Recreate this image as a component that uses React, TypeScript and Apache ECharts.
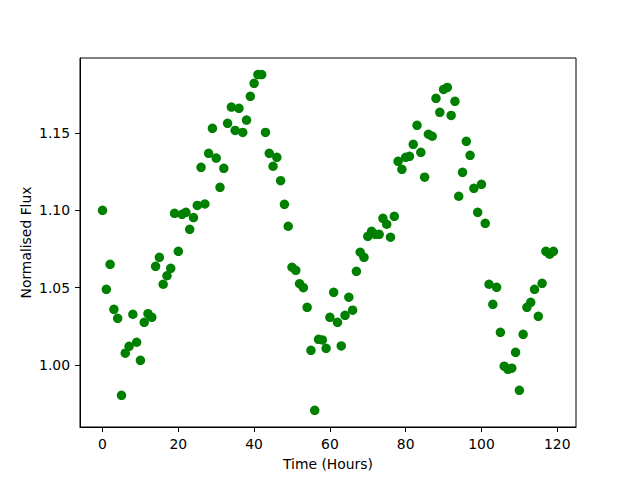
import React, { useEffect, useRef } from "react";
import * as echarts from "echarts";

const hours: number[] = Array.from({ length: 120 }, (_, i) => i);

const flux: number[] = [
  1.1000, 1.0489, 1.0651, 1.0360, 1.0302, 0.9804, 1.0076, 1.0121, 1.0328, 1.0147,
  1.0030, 1.0276, 1.0332, 1.0308, 1.0638, 1.0696, 1.0522, 1.0577, 1.0625, 1.0981,
  1.0735, 1.0974, 1.0987, 1.0877, 1.0953, 1.1032, 1.1278, 1.1041, 1.1369, 1.1530,
  1.1338, 1.1149, 1.1272, 1.1563, 1.1668, 1.1517, 1.1660, 1.1504, 1.1584, 1.1737,
  1.1821, 1.1878, 1.1878, 1.1504, 1.1369, 1.1285, 1.1343, 1.1192, 1.1039, 1.0897,
  1.0632, 1.0612, 1.0526, 1.0500, 1.0373, 1.0095, 0.9707, 1.0166, 1.0162, 1.0108,
  1.0308, 1.0470, 1.0276, 1.0123, 1.0321, 1.0438, 1.0354, 1.0606, 1.0729, 1.0696,
  1.0832, 1.0864, 1.0845, 1.0845, 1.0948, 1.0910, 1.0826, 1.0961, 1.1317, 1.1265,
  1.1343, 1.1349, 1.1427, 1.1550, 1.1375, 1.1214, 1.1492, 1.1479, 1.1724, 1.1634,
  1.1782, 1.1795, 1.1614, 1.1705, 1.1091, 1.1246, 1.1446, 1.1356, 1.1142, 1.0987,
  1.1168, 1.0916, 1.0522, 1.0392, 1.0502, 1.0211, 0.9992, 0.9972, 0.9979, 1.0082,
  0.9836, 1.0198, 1.0373, 1.0405, 1.0489, 1.0315, 1.0528, 1.0735, 1.0716, 1.0735,
];

const xTicks: number[] = [0, 20, 40, 60, 80, 100, 120];
const yTicks: number[] = [1.0, 1.05, 1.1, 1.15];

export default function App() {
  const ref = useRef<HTMLDivElement>(null);
  useEffect(() => {
    if (!ref.current) return;
    const chart = echarts.init(ref.current, null, { renderer: "svg" });
    const font = "DejaVu Sans";
    const xmin = -5.95, xmax = 124.95;
    const ymin = 0.9599, ymax = 1.1985;
    chart.setOption({
      animation: false,
      backgroundColor: "#ffffff",
      grid: {
        left: 80, right: 64, top: 58, bottom: 53,
        show: true, borderColor: "#000", borderWidth: 1, backgroundColor: "transparent",
      },
      xAxis: {
        type: "value",
        min: xmin, max: xmax,
        name: "Time (Hours)",
        nameLocation: "middle",
        nameGap: 30,
        nameMoveOverlap: false,
        nameTextStyle: { fontFamily: font, fontSize: 13.9, color: "#000" },
        axisLine: { show: true, onZero: false, lineStyle: { color: "#000", width: 1 } },
        axisTick: { show: true, length: 5, lineStyle: { color: "#000" }, customValues: xTicks },
        axisLabel: {
          customValues: xTicks, margin: 10, color: "#000", fontFamily: font, fontSize: 13.9,
          formatter: (v: number) => String(Math.round(v)),
        },
        splitLine: { show: false },
      },
      yAxis: {
        type: "value",
        min: ymin, max: ymax,
        name: "Normalised Flux",
        nameLocation: "middle",
        nameGap: 47,
        nameMoveOverlap: false,
        nameTextStyle: { fontFamily: font, fontSize: 13.9, color: "#000" },
        axisLine: { show: true, onZero: false, lineStyle: { color: "#000", width: 1 } },
        axisTick: { show: true, length: 5, lineStyle: { color: "#000" }, customValues: yTicks },
        axisLabel: {
          customValues: yTicks, margin: 10, color: "#000", fontFamily: font, fontSize: 13.9,
          formatter: (v: number) => v.toFixed(2),
        },
        splitLine: { show: false },
      },
      series: [
        {
          type: "scatter",
          data: hours.map((h, i) => [h, flux[i]]),
          symbol: "circle",
          symbolSize: 9.5,
          itemStyle: { color: "#008000", opacity: 1 },
        },
      ],
    });
    return () => chart.dispose();
  }, []);
  return <div ref={ref} style={{ width: 640, height: 480, position: "absolute", left: 0, top: 0 }} />;
}
